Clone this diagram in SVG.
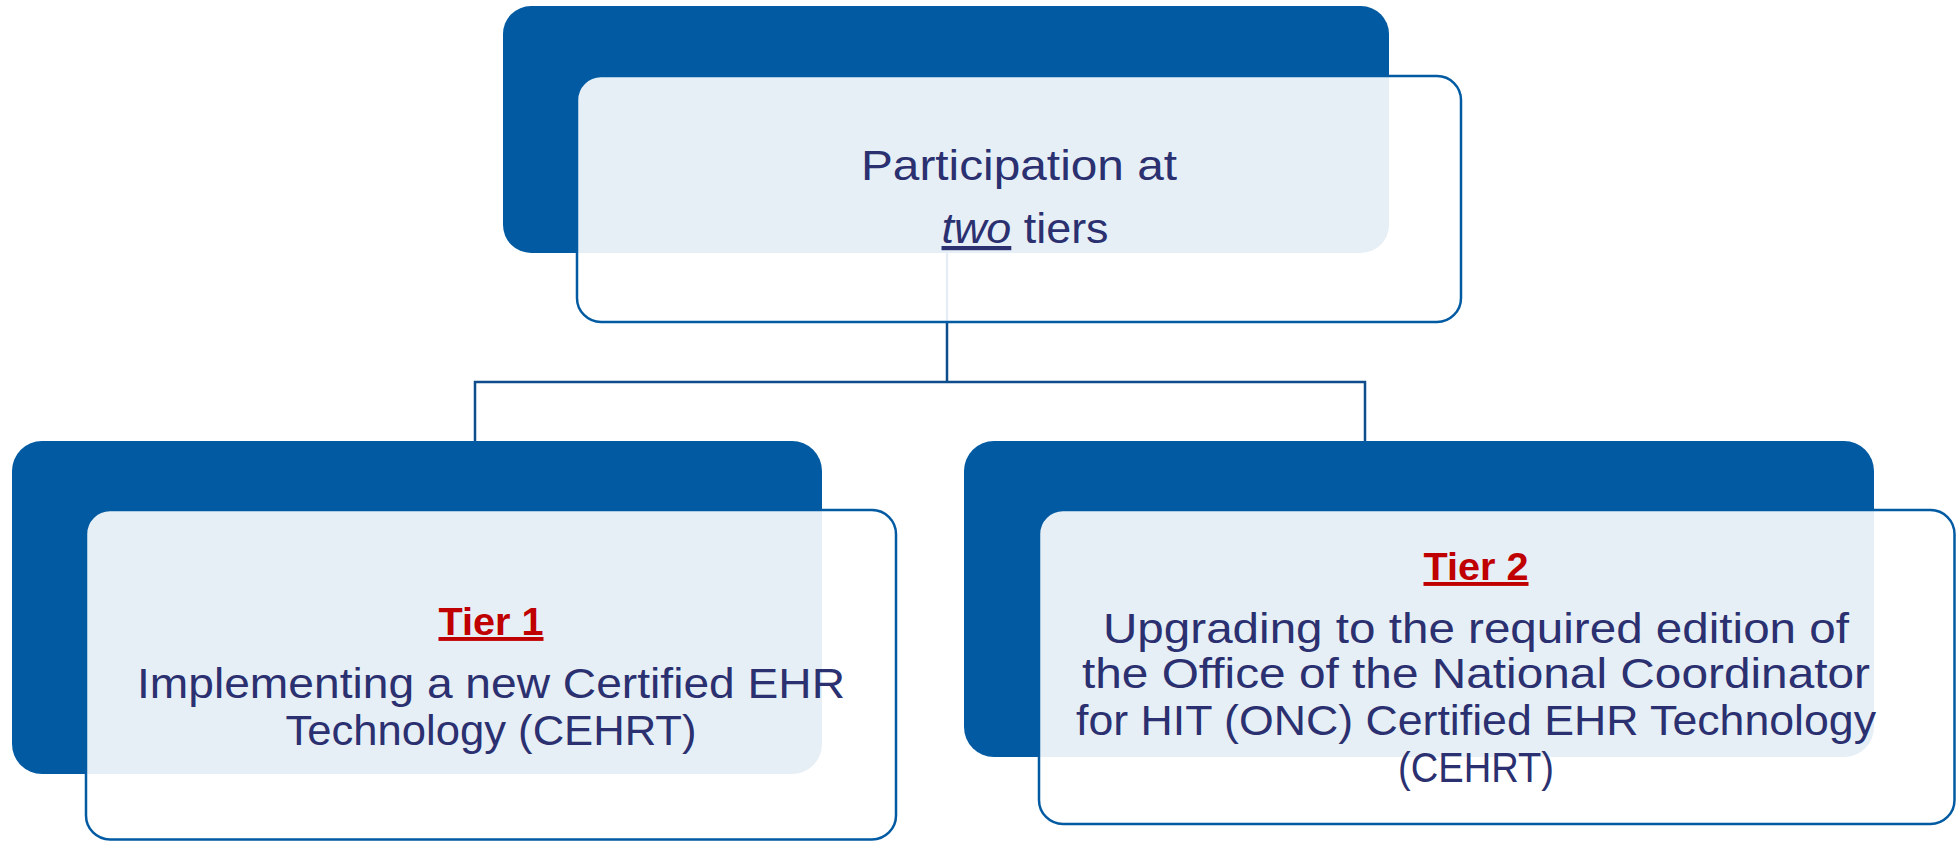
<svg xmlns="http://www.w3.org/2000/svg" width="1957" height="841" viewBox="0 0 1957 841">
<style>
.dark{fill:#025BA2;}
.light{fill:#FFFFFF;fill-opacity:0.9;stroke:#025BA2;stroke-width:2.5;}
.conn{fill:none;stroke:#0E4D8C;stroke-width:2.5;}
.t{font-family:"Liberation Sans",Arial,sans-serif;font-size:42px;fill:#2B3070;text-anchor:middle;}
.h{font-family:"Liberation Sans",Arial,sans-serif;font-size:39px;font-weight:bold;fill:#C00000;text-anchor:middle;text-decoration:underline;}
</style>
<rect width="1957" height="841" fill="#FFFFFF"/>
<g id="connectors">
<path class="conn" d="M947 253 V382 M475 441 V382 H1365 V441"/>
</g>
<g id="node-top">
<rect class="dark" x="503" y="6" width="886" height="247" rx="28"/>
<rect class="light" x="577" y="76" width="884" height="246" rx="24"/>
<text class="t" x="1019" y="180" textLength="316" lengthAdjust="spacingAndGlyphs">Participation at</text>
<text class="t" x="1025" y="243" textLength="167" lengthAdjust="spacingAndGlyphs"><tspan font-style="italic" text-decoration="underline">two</tspan> tiers</text>
</g>
<g id="node-tier1">
<rect class="dark" x="12" y="441" width="810" height="333" rx="30"/>
<rect class="light" x="86" y="510" width="810" height="329.5" rx="24"/>
<text class="h" x="491" y="635" textLength="105" lengthAdjust="spacingAndGlyphs">Tier 1</text>
<text class="t" x="491" y="698" textLength="708" lengthAdjust="spacingAndGlyphs">Implementing a new Certified EHR</text>
<text class="t" x="491" y="745" textLength="411" lengthAdjust="spacingAndGlyphs">Technology (CEHRT)</text>
</g>
<g id="node-tier2">
<rect class="dark" x="964" y="441" width="910" height="316" rx="30"/>
<rect class="light" x="1039" y="510" width="915.5" height="314" rx="24"/>
<text class="h" x="1476" y="580" textLength="105" lengthAdjust="spacingAndGlyphs">Tier 2</text>
<text class="t" x="1476" y="643" textLength="746" lengthAdjust="spacingAndGlyphs">Upgrading to the required edition of</text>
<text class="t" x="1476" y="688" textLength="788" lengthAdjust="spacingAndGlyphs">the Office of the National Coordinator</text>
<text class="t" x="1476" y="735" textLength="800" lengthAdjust="spacingAndGlyphs">for HIT (ONC) Certified EHR Technology</text>
<text class="t" x="1476" y="782" textLength="156" lengthAdjust="spacingAndGlyphs">(CEHRT)</text>
</g>
</svg>
